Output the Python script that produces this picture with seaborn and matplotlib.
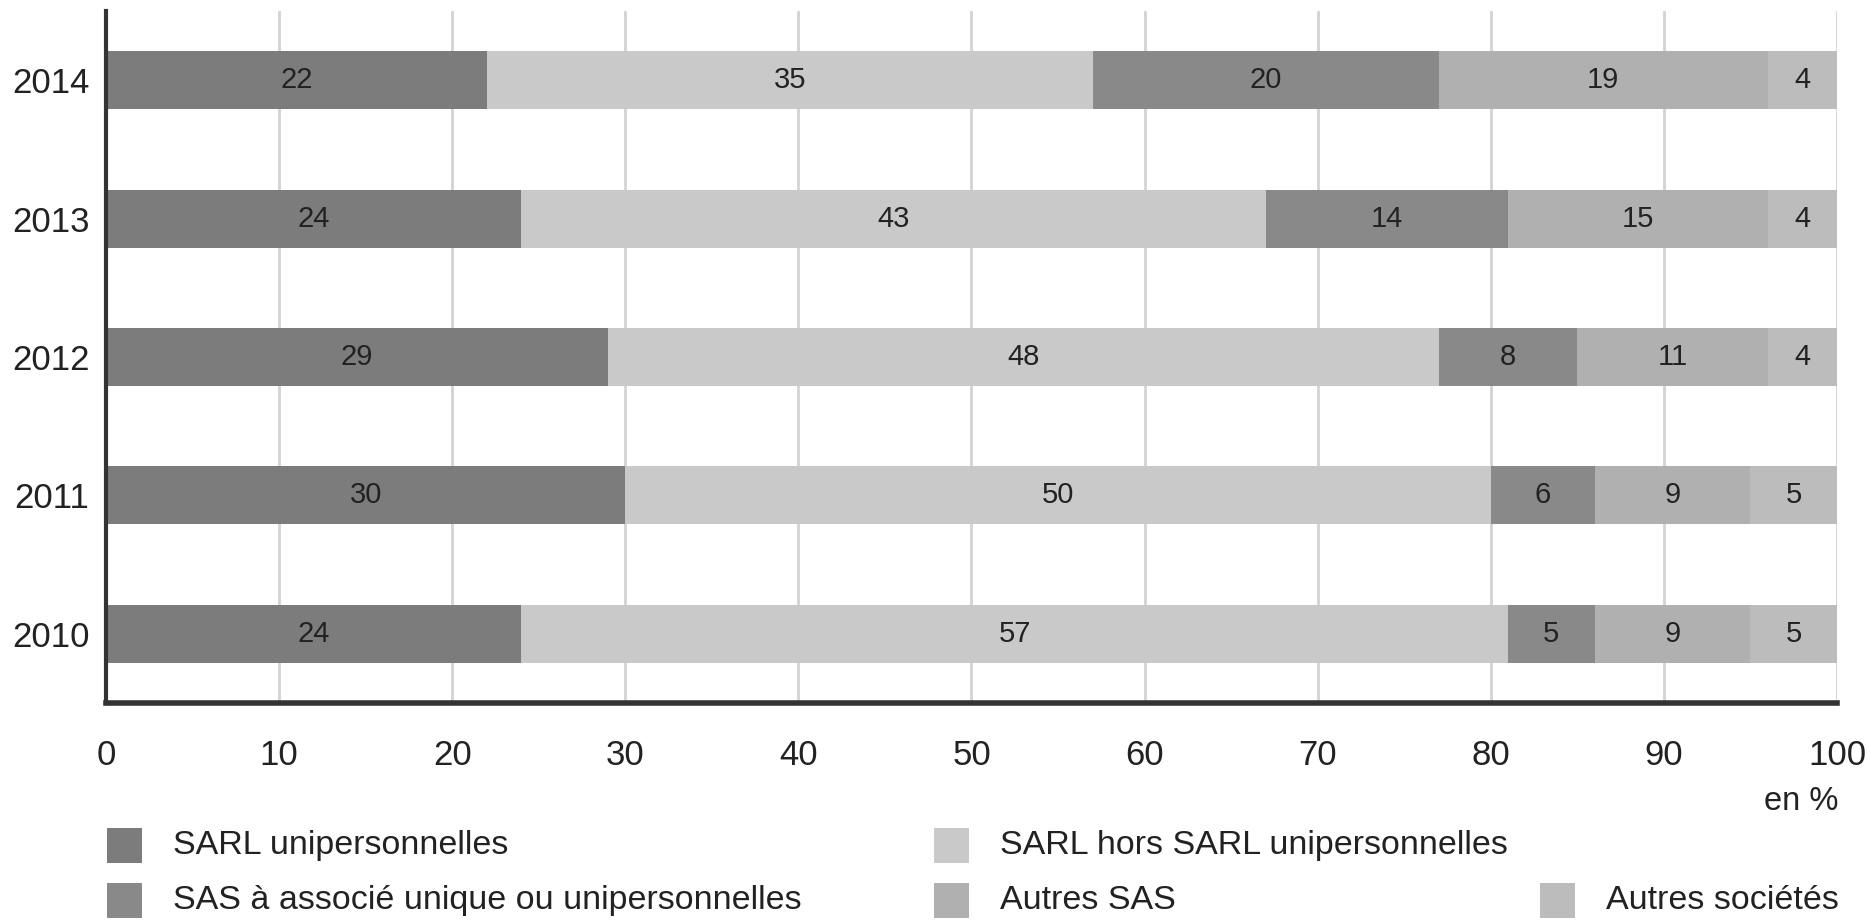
import matplotlib
matplotlib.use("Agg")
import matplotlib.pyplot as plt
from matplotlib import font_manager
from matplotlib.patches import Rectangle
import seaborn as sns
import pandas as pd
import numpy as np

# ---- data ----
years = ["2014", "2013", "2012", "2011", "2010"]
series_names = ["SARL unipersonnelles", "SARL hors SARL unipersonnelles",
                "SAS à associé unique ou unipersonnelles", "Autres SAS", "Autres sociétés"]
sarl_uni = [22, 24, 29, 30, 24]
sarl_hors = [35, 43, 48, 50, 57]
sas_unique = [20, 14, 8, 6, 5]
autres_sas = [19, 15, 11, 9, 9]
autres_soc = [4, 4, 4, 5, 5]
x_ticks = [0, 10, 20, 30, 40, 50, 60, 70, 80, 90, 100]
unit_label = "en %"

colors = ["#7c7c7c", "#c9c9c9", "#898989", "#b0b0b0", "#bcbcbc"]

# ---- fonts ----
sns.set_theme(style="white")
names = {f.name for f in font_manager.fontManager.ttflist}
narrow = "Liberation Sans Narrow" in names
if narrow:
    plt.rcParams["font.family"] = ["Liberation Sans Narrow", "DejaVu Sans"]
    fs_tick, fs_val, fs_leg = 29, 24, 29
else:
    plt.rcParams["font.family"] = ["Liberation Sans", "DejaVu Sans"]
    fs_tick, fs_val, fs_leg = 25, 21, 24.5
txt_color = "#222222"

fig = plt.figure(figsize=(18.7, 9.21), dpi=100)
ax = fig.add_axes([106 / 1870, 1 - 703 / 921, (1837 - 106) / 1870, (703 - 11) / 921])

values = [sarl_uni, sarl_hors, sas_unique, autres_sas, autres_soc]
df = pd.DataFrame({n: v for n, v in zip(series_names, values)}, index=years)
cum = df.cumsum(axis=1)

# layered stacked bars: draw widest cumulative first
for i in range(len(series_names) - 1, -1, -1):
    d = pd.DataFrame({"year": years, "val": cum.iloc[:, i].values})
    sns.barplot(data=d, x="val", y="year", order=years, orient="h", color=colors[i],
                saturation=1, width=0.42, errorbar=None, ax=ax, linewidth=0, zorder=2)

# value labels
for yi, yr in enumerate(years):
    for i, n in enumerate(series_names):
        v = df.loc[yr, n]
        c = cum.loc[yr, n]
        ax.text(c - v / 2, yi, f"{v}", ha="center", va="center", fontsize=fs_val,
                color=txt_color, zorder=3)

ax.set_xlim(0, 100)
ax.set_ylim(4.5, -0.5)
ax.set_xticks(x_ticks)
ax.set_xticklabels([str(t) for t in x_ticks])
ax.set_xlabel("")
ax.set_ylabel("")
ax.grid(axis="x", color="#d3d3d3", linewidth=2, zorder=0)
ax.grid(axis="y", visible=False)
ax.set_axisbelow(True)
for s in ["top", "right"]:
    ax.spines[s].set_visible(False)
ax.spines["left"].set_color("#333333")
ax.spines["left"].set_linewidth(3)
ax.spines["bottom"].set_color("#333333")
ax.spines["bottom"].set_linewidth(4)
ax.tick_params(axis="x", length=0, pad=26, labelsize=fs_tick, labelcolor=txt_color)
ax.tick_params(axis="y", length=0, pad=12, labelsize=fs_tick, labelcolor=txt_color)

fig.text(1838 / 1870, 1 - 801 / 921, unit_label, ha="right", va="center",
         fontsize=fs_leg - 1, color=txt_color)

# legend (manual layout: 2 items on row 1, 3 on row 2)
leg_pos = [(107, 845), (934, 845), (107, 900), (934, 900), (1540, 900)]
sq = 35
for (lx, ly), n, c in zip(leg_pos, series_names, colors):
    fig.add_artist(Rectangle((lx / 1870, 1 - (ly + sq / 2) / 921), sq / 1870, sq / 921,
                             transform=fig.transFigure, facecolor=c, edgecolor="none"))
    fig.text((lx + 66) / 1870, 1 - ly / 921, n, ha="left", va="center",
             fontsize=fs_leg, color=txt_color)

fig.savefig("out.png", dpi=100)
